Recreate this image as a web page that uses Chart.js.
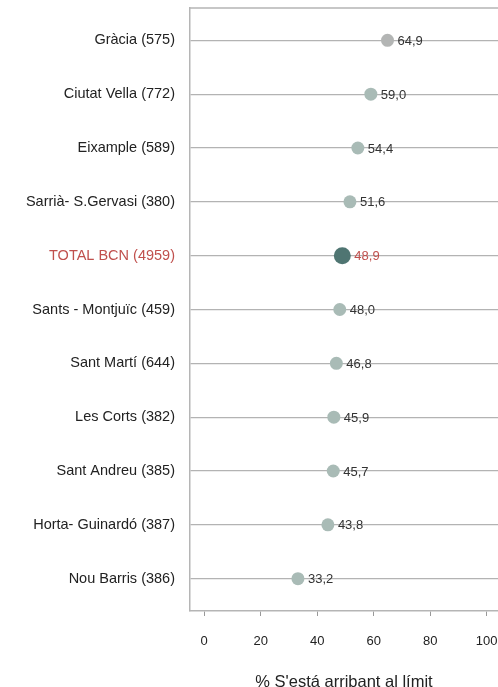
<!DOCTYPE html>
<html>
<head>
<meta charset="utf-8">
<script src="https://cdn.jsdelivr.net/npm/chart.js@4/dist/chart.umd.min.js"></script>
<style>
html,body{margin:0;padding:0;background:#fff;}
#wrap{width:498px;height:687px;position:relative;}
</style>
</head>
<body>
<div id="wrap"><canvas id="c" width="498" height="687"></canvas></div>
<script>
const categories = ["Gràcia (575)","Ciutat Vella (772)","Eixample (589)","Sarrià- S.Gervasi (380)","TOTAL BCN (4959)","Sants - Montjuïc (459)","Sant Martí (644)","Les Corts (382)","Sant Andreu (385)","Horta- Guinardó (387)","Nou Barris (386)"];
const values = [64.9, 59.0, 54.4, 51.6, 48.9, 48.0, 46.8, 45.9, 45.7, 43.8, 33.2];
const xTicks = [0, 20, 40, 60, 80, 100];
const axisTitle = "% S'está arribant al límit";
const totalIndex = 4;

const FONT = "'Liberation Sans', Arial, sans-serif";
const RED = '#c0504d';
const pointColors = values.map((v,i)=> i===totalIndex ? '#4f7572' : (i===0 ? '#b3b5b4' : '#a9bbb6'));
const pointRadii = values.map((v,i)=> i===totalIndex ? 8.5 : 6.5);

const boxPlugin = {
  id:'box',
  afterDraw(chart){
    const {ctx, chartArea:a} = chart;
    ctx.save();
    ctx.strokeStyle = '#b5b5b5';
    ctx.lineWidth = 1.5;
    ctx.beginPath();
    ctx.moveTo(a.left, a.top); ctx.lineTo(a.right, a.top);
    ctx.stroke();
    ctx.restore();
  }
};

const labelPlugin = {
  id:'vlabels',
  afterDatasetsDraw(chart){
    const {ctx} = chart;
    const meta = chart.getDatasetMeta(0);
    ctx.save();
    ctx.font = '13px ' + FONT;
    ctx.textBaseline = 'middle';
    ctx.textAlign = 'left';
    meta.data.forEach((p,i)=>{
      const txt = values[i].toFixed(1).replace('.', ',');
      ctx.fillStyle = i===totalIndex ? RED : '#333';
      ctx.fillText(txt, p.x + (i===totalIndex ? 12 : 10), p.y + 1);
    });
    ctx.restore();
  }
};

new Chart(document.getElementById('c'), {
  type:'scatter',
  data:{
    datasets:[{
      data: values.map((v,i)=>({x:v, y:i})),
      backgroundColor: pointColors,
      borderColor: pointColors,
      pointRadius: pointRadii,
      pointHoverRadius: pointRadii,
      borderWidth: 0
    }]
  },
  options:{
    responsive:false,
    animation:false,
    devicePixelRatio:1,
    layout:{autoPadding:false, padding:{top:8,right:0,left:0,bottom:0}},
    plugins:{legend:{display:false}, tooltip:{enabled:false}},
    scales:{
      x:{
        type:'linear', min:-5, max:104,
        afterBuildTicks(s){ s.ticks = xTicks.map(v=>({value:v})); },
        afterFit(s){ s.height = 76; s.paddingLeft = 0; s.paddingRight = 0; },
        grid:{drawOnChartArea:false, drawTicks:true, tickLength:5, color:'#999', lineWidth:1},
        border:{display:true, color:'#b5b5b5', width:1.5},
        ticks:{font:{family:FONT, size:13}, color:'#222', padding:18, maxRotation:0,
          callback:(v)=>String(v)},
        title:{display:true, text:axisTitle, font:{family:FONT, size:16.5, lineHeight:0.6}, color:'#222', padding:{top:0,bottom:0}}
      },
      y:{
        type:'linear', min:-0.6, max:10.6, reverse:true,
        afterBuildTicks(s){ s.ticks = categories.map((c,i)=>({value:i})); },
        afterFit(s){ s.width = 190; s.paddingTop = 0; s.paddingBottom = 0; },
        grid:{drawOnChartArea:true, drawTicks:false, color:'#b3b3b3', lineWidth:1.2},
        border:{display:true, color:'#b5b5b5', width:1.5},
        ticks:{
          font:{family:FONT, size:14.5}, padding:15,
          color:(ctx)=> ctx.index===totalIndex ? RED : '#222',
          callback:(v)=> categories[v] !== undefined ? categories[v] : ''
        }
      }
    }
  },
  plugins:[boxPlugin, labelPlugin]
});
</script>
</body>
</html>
